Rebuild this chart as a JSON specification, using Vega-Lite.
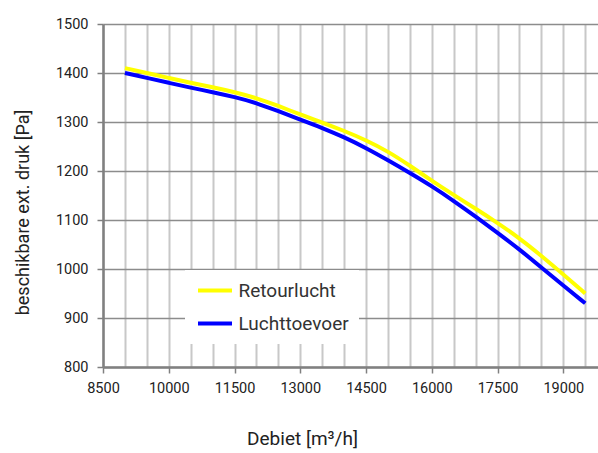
{
  "$schema": "https://vega.github.io/schema/vega-lite/v6.json",
  "width": 495,
  "height": 343,
  "autosize": "none",
  "padding": {"left": 103, "top": 24, "right": 0, "bottom": 86},
  "background": "white",
  "config": {
    "view": {"stroke": null},
    "font": "Roboto",
    "axis": {"labelFont": "Roboto", "titleFont": "Roboto", "labelColor": "#222", "titleColor": "#222", "titleFontWeight": "normal"}
  },
  "data": {
    "values": [
      {"debiet": 9000, "druk": 1410, "serie": "Retourlucht"},
      {"debiet": 9500, "druk": 1400, "serie": "Retourlucht"},
      {"debiet": 10000, "druk": 1390, "serie": "Retourlucht"},
      {"debiet": 10500, "druk": 1380, "serie": "Retourlucht"},
      {"debiet": 11000, "druk": 1371, "serie": "Retourlucht"},
      {"debiet": 11500, "druk": 1361, "serie": "Retourlucht"},
      {"debiet": 12000, "druk": 1349, "serie": "Retourlucht"},
      {"debiet": 12500, "druk": 1333, "serie": "Retourlucht"},
      {"debiet": 13000, "druk": 1315, "serie": "Retourlucht"},
      {"debiet": 13500, "druk": 1299, "serie": "Retourlucht"},
      {"debiet": 14000, "druk": 1282, "serie": "Retourlucht"},
      {"debiet": 14500, "druk": 1263, "serie": "Retourlucht"},
      {"debiet": 15000, "druk": 1240, "serie": "Retourlucht"},
      {"debiet": 15500, "druk": 1211, "serie": "Retourlucht"},
      {"debiet": 16000, "druk": 1180, "serie": "Retourlucht"},
      {"debiet": 16500, "druk": 1151, "serie": "Retourlucht"},
      {"debiet": 17000, "druk": 1123, "serie": "Retourlucht"},
      {"debiet": 17500, "druk": 1094, "serie": "Retourlucht"},
      {"debiet": 18000, "druk": 1063, "serie": "Retourlucht"},
      {"debiet": 18500, "druk": 1027, "serie": "Retourlucht"},
      {"debiet": 19000, "druk": 989, "serie": "Retourlucht"},
      {"debiet": 19500, "druk": 950, "serie": "Retourlucht"},
      {"debiet": 9000, "druk": 1400, "serie": "Luchttoevoer"},
      {"debiet": 9500, "druk": 1390, "serie": "Luchttoevoer"},
      {"debiet": 10000, "druk": 1380, "serie": "Luchttoevoer"},
      {"debiet": 10500, "druk": 1370, "serie": "Luchttoevoer"},
      {"debiet": 11000, "druk": 1361, "serie": "Luchttoevoer"},
      {"debiet": 11500, "druk": 1351, "serie": "Luchttoevoer"},
      {"debiet": 12000, "druk": 1339, "serie": "Luchttoevoer"},
      {"debiet": 12500, "druk": 1322, "serie": "Luchttoevoer"},
      {"debiet": 13000, "druk": 1305, "serie": "Luchttoevoer"},
      {"debiet": 13500, "druk": 1288, "serie": "Luchttoevoer"},
      {"debiet": 14000, "druk": 1269, "serie": "Luchttoevoer"},
      {"debiet": 14500, "druk": 1247, "serie": "Luchttoevoer"},
      {"debiet": 15000, "druk": 1222, "serie": "Luchttoevoer"},
      {"debiet": 15500, "druk": 1196, "serie": "Luchttoevoer"},
      {"debiet": 16000, "druk": 1169, "serie": "Luchttoevoer"},
      {"debiet": 16500, "druk": 1139, "serie": "Luchttoevoer"},
      {"debiet": 17000, "druk": 1107, "serie": "Luchttoevoer"},
      {"debiet": 17500, "druk": 1074, "serie": "Luchttoevoer"},
      {"debiet": 18000, "druk": 1040, "serie": "Luchttoevoer"},
      {"debiet": 18500, "druk": 1003, "serie": "Luchttoevoer"},
      {"debiet": 19000, "druk": 966, "serie": "Luchttoevoer"},
      {"debiet": 19500, "druk": 930, "serie": "Luchttoevoer"}
    ]
  },
  "mark": {"type": "line", "strokeWidth": 4, "interpolate": "basis", "clip": true},
  "encoding": {
    "x": {
      "field": "debiet",
      "type": "quantitative",
      "scale": {"domain": [8500, 19791], "nice": false, "zero": false},
      "axis": {
        "title": "Debiet [m³/h]",
        "titleFontSize": 19,
        "titleX": 199,
        "titleY": 62,
        "titleBaseline": "top",
        "values": [8500, 9000, 9500, 10000, 10500, 11000, 11500, 12000, 12500, 13000, 13500, 14000, 14500, 15000, 15500, 16000, 16500, 17000, 17500, 18000, 18500, 19000, 19500],
        "labelExpr": "(datum.value - 8500) % 1500 == 0 ? datum.value + '' : ''",
        "labelFontSize": 14.5,
        "labelPadding": 8,
        "labelOverlap": false,
        "labelBound": false,
        "labelFlush": false,
        "tickSize": 6,
        "tickColor": "#808080",
        "tickWidth": 1.5,
        "tickOpacity": {"condition": {"test": "(datum.value - 8500) % 1500 == 0", "value": 1}, "value": 0},
        "grid": true,
        "gridColor": "#c8c8c8",
        "gridWidth": 2,
        "domainColor": "#808080",
        "domainWidth": 2.5
      }
    },
    "y": {
      "field": "druk",
      "type": "quantitative",
      "scale": {"domain": [800, 1500], "nice": false, "zero": false},
      "axis": {
        "title": "beschikbare ext. druk [Pa]",
        "titleFontSize": 18,
        "titleX": -80,
        "titleY": 188,
        "titleBaseline": "middle",
        "values": [800, 900, 1000, 1100, 1200, 1300, 1400, 1500],
        "format": "d",
        "labelFontSize": 14.5,
        "labelPadding": 9,
        "tickSize": 6,
        "tickColor": "#808080",
        "tickWidth": 1.5,
        "grid": true,
        "gridColor": "#8c8c8c",
        "gridWidth": 1.5,
        "domainColor": "#808080",
        "domainWidth": 2.5
      }
    },
    "color": {
      "field": "serie",
      "type": "nominal",
      "scale": {"domain": ["Retourlucht", "Luchttoevoer"], "range": ["#FFFF00", "#0000FF"]},
      "legend": {
        "title": null,
        "orient": "none",
        "legendX": 82,
        "legendY": 246,
        "fillColor": "white",
        "padding": 10,
        "symbolType": "M-2,0H2",
        "symbolStrokeWidth": 4,
        "symbolSize": 289,
        "symbolOffset": 9.5,
        "labelFontSize": 19,
        "labelFont": "Roboto",
        "labelColor": "#333",
        "labelOffset": 13,
        "rowPadding": 12
      }
    },
    "order": {"field": "serie", "sort": "descending"}
  }
}
